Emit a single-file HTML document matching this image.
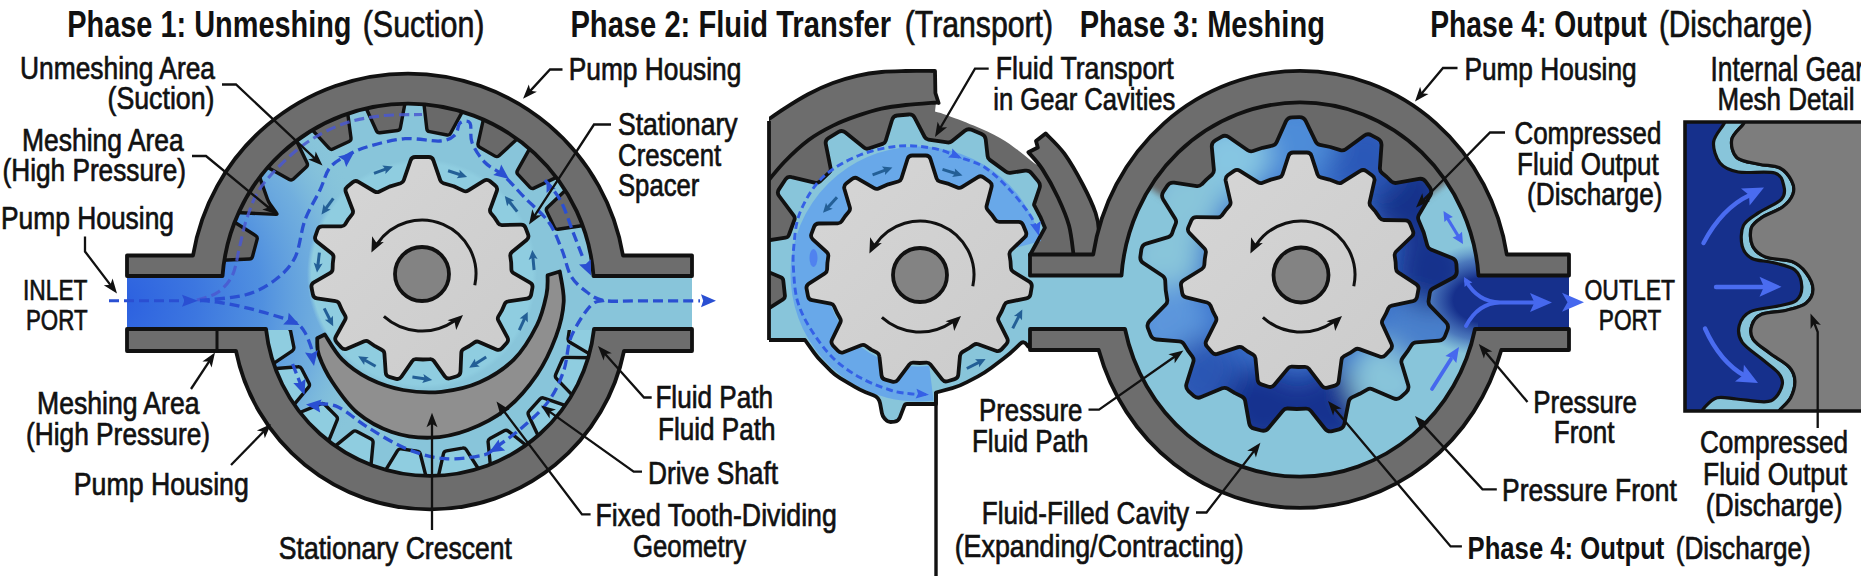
<!DOCTYPE html>
<html lang="en"><head><meta charset="utf-8"><title>Internal gear pump phases</title>
<style>html,body{margin:0;padding:0;background:#fff}svg{display:block}</style></head>
<body>
<svg width="1861" height="576" viewBox="0 0 1861 576" font-family="'Liberation Sans', sans-serif" fill="#111">
<defs>
<linearGradient id="gearg" x1="0" y1="0" x2="1" y2="1"><stop offset="0" stop-color="#d6d6d6"/><stop offset="1" stop-color="#cbcbcb"/></linearGradient>
<clipPath id="p1f"><rect x="127" y="275" width="565" height="55"/><path d="M220,300 L222,276 A186,186 0 0 1 594,276 L594,300 Z"/><path d="M262,300 L266,329 A165,165 0 0 0 594,329 L594,300 Z"/></clipPath>
<radialGradient id="p1g" gradientUnits="userSpaceOnUse" cx="118" cy="302" r="262"><stop offset="0" stop-color="#2b5fe0" stop-opacity="1"/><stop offset="0.3" stop-color="#3a74e0" stop-opacity="0.97"/><stop offset="0.55" stop-color="#4a8ae0" stop-opacity="0.9"/><stop offset="0.78" stop-color="#62a0e0" stop-opacity="0.6"/><stop offset="1" stop-color="#88c5da" stop-opacity="0"/></radialGradient>
<radialGradient id="p1disc" gradientUnits="userSpaceOnUse" cx="422" cy="274" r="115"><stop offset="0.96" stop-color="#8fcde0" stop-opacity="1"/><stop offset="1" stop-color="#8fcde0" stop-opacity="0"/></radialGradient>
<clipPath id="p1bt"><rect x="200" y="330" width="500" height="200"/></clipPath>
<clipPath id="p2c"><rect x="769" y="40" width="400" height="536"/></clipPath>
<clipPath id="p3f"><ellipse cx="1300" cy="289.5" rx="180" ry="188"/><rect x="1120" y="274" width="449" height="57"/></clipPath>
<linearGradient id="p3g" gradientUnits="userSpaceOnUse" x1="1190" y1="160" x2="1420" y2="350"><stop offset="0" stop-color="#88c5da"/><stop offset="0.3" stop-color="#5e9fe0"/><stop offset="0.55" stop-color="#2f5fc4"/><stop offset="0.8" stop-color="#1d3fa0"/><stop offset="1" stop-color="#1a3590"/></linearGradient>
<linearGradient id="p3out" gradientUnits="userSpaceOnUse" x1="1400" y1="0" x2="1490" y2="0"><stop offset="0" stop-color="#16308c" stop-opacity="0"/><stop offset="0.5" stop-color="#16308c" stop-opacity="0.6"/><stop offset="1" stop-color="#16308c" stop-opacity="1"/></linearGradient>
<radialGradient id="p3rad"><stop offset="0.4" stop-color="#16308c" stop-opacity="1"/><stop offset="0.72" stop-color="#2446a8" stop-opacity="0.6"/><stop offset="1" stop-color="#3a6ac0" stop-opacity="0"/></radialGradient>
<clipPath id="p3rot"><path d="M1428.6,300.7Q1428.1,303.7 1430.2,305.8L1446,322.2Q1449.1,325.4 1447.5,329.6L1445,336.2Q1443.4,340.4 1438.9,340.7L1416.2,342.3Q1413.2,342.5 1411.6,345L1407.3,351.7L1402.6,358Q1400.8,360.4 1401.6,363.3L1408.2,385.1Q1409.4,389.4 1406.1,392.4L1400.8,397.1Q1397.4,400.1 1393.3,398.3L1372.4,389.2Q1369.7,388 1367.1,389.6L1359.7,393.8L1352,397.4Q1349.3,398.7 1348.7,401.6L1344.3,424Q1343.4,428.4 1339.1,429.4L1332.2,431.1Q1327.8,432.2 1325,428.7L1310.8,410.9Q1308.9,408.6 1305.9,408.7L1296.8,409L1287.8,408.5Q1284.8,408.3 1282.9,410.7L1268.4,428.2Q1265.5,431.6 1261.1,430.5L1254.3,428.7Q1249.9,427.6 1249.1,423.1L1245.1,400.7Q1244.5,397.8 1241.8,396.5L1234.5,392.9L1227.6,388.7Q1225,387.2 1222.2,388.3L1201.2,397.1Q1197.1,398.9 1193.7,395.8L1188.5,391.1Q1185.2,388 1186.5,383.7L1193.3,362Q1194.2,359.2 1192.4,356.7L1187.9,350.6L1183.8,344Q1182.2,341.5 1179.3,341.3L1156.6,339.5Q1152.1,339.1 1150.5,334.9L1148,328.3Q1146.4,324.1 1149.6,320.9L1165.6,304.7Q1167.7,302.5 1167.2,299.6L1165.7,290L1165.2,280.4Q1165,277.4 1162.5,275.7L1143.5,263.2Q1139.7,260.8 1140.4,256.3L1141.4,249.3Q1142.1,244.8 1146.4,243.6L1168.2,237.1Q1171.1,236.2 1172.1,233.4L1173.7,228.7L1175.6,224Q1176.8,221.3 1175.2,218.7L1163.2,199.4Q1160.9,195.5 1163.3,191.8L1167.2,185.9Q1169.7,182.1 1174.1,182.7L1196.7,186.1Q1199.6,186.5 1201.7,184.3L1206.6,179.4L1211.9,174.8Q1214.1,172.8 1213.9,169.8L1211.8,147.1Q1211.4,142.7 1215.3,140.4L1221.4,136.8Q1225.3,134.6 1229,137.2L1247.7,150.2Q1250.1,151.9 1253,151L1262.6,147.8L1272.4,145.6Q1275.4,144.9 1276.6,142.2L1285.9,121.4Q1287.7,117.3 1292.2,117.3L1299.3,117.2Q1303.8,117.1 1305.8,121.2L1315.7,141.7Q1317,144.4 1319.9,144.9L1330.3,147L1340.4,150.1Q1343.3,150.9 1345.7,149.2L1364.1,135.7Q1367.7,133.1 1371.6,135.3L1377.8,138.7Q1381.8,140.9 1381.5,145.4L1379.9,168.1Q1379.7,171.1 1382,173L1386.8,177L1391.3,181.4Q1393.5,183.4 1396.5,182.9L1418.9,178.9Q1423.3,178.1 1425.9,181.8L1430,187.6Q1432.5,191.3 1430.3,195.2L1418.9,214.9Q1417.4,217.5 1418.6,220.3L1423.7,232.6L1427.3,245.5Q1428.1,248.3 1430.9,249.5L1452,258Q1456.2,259.7 1456.4,264.1L1456.8,271.2Q1457,275.7 1453,277.8L1432.9,288.5Q1430.3,289.9 1429.8,292.9Z"/></clipPath>
<filter id="bl3" filterUnits="userSpaceOnUse" x="1080" y="40" width="440" height="300"><feGaussianBlur stdDeviation="3"/></filter>
<filter id="bl14" x="-20%" y="-20%" width="140%" height="140%"><feGaussianBlur stdDeviation="13"/></filter>
<clipPath id="dbc"><rect x="1685" y="122" width="200" height="289"/></clipPath>
</defs>
<rect width="1861" height="576" fill="#fff"/>
<g clip-path="url(#p1f)">
<rect x="120" y="90" width="580" height="400" fill="#88c5da"/>
<rect x="110" y="40" width="300" height="520" fill="url(#p1g)"/>
<circle cx="422" cy="274" r="120" fill="url(#p1disc)"/>
</g>
<path d="M222.2,260.2L249.4,259Q251.9,258.9 252.5,256.5L257.1,239.4Q257.8,237 255.6,235.6L232.7,221Z" fill="#696969" stroke="#111" stroke-width="3.4" stroke-linejoin="round" stroke-linecap="round" />
<path d="M265.7,166.2L289.3,179.5Q291.5,180.8 293.4,179.1L306.3,167Q308.2,165.3 307.1,163L295.4,138.5Z" fill="#696969" stroke="#111" stroke-width="3.4" stroke-linejoin="round" stroke-linecap="round" />
<path d="M310.6,128.2L329,148.2Q330.7,150.1 332.9,149L349,141.5Q351.3,140.5 351,138L347.4,111Z" fill="#696969" stroke="#111" stroke-width="3.4" stroke-linejoin="round" stroke-linecap="round" />
<path d="M365.1,106L376.4,130.7Q377.4,133 379.9,132.7L397.5,130.5Q400,130.2 400.4,127.7L405.4,101Z" fill="#696969" stroke="#111" stroke-width="3.4" stroke-linejoin="round" stroke-linecap="round" />
<path d="M423.7,101.7L426.8,128.7Q427.1,131.2 429.6,131.6L447,135Q449.4,135.5 450.6,133.3L463.6,109.4Z" fill="#696969" stroke="#111" stroke-width="3.4" stroke-linejoin="round" stroke-linecap="round" />
<path d="M483.9,117L478,143.5Q477.5,146 479.6,147.2L495,156.1Q497.1,157.3 499,155.7L519,137.3Z" fill="#696969" stroke="#111" stroke-width="3.4" stroke-linejoin="round" stroke-linecap="round" />
<path d="M530.8,146.7L517.5,170.3Q516.2,172.5 517.9,174.4L530,187.3Q531.7,189.2 534,188.1L558.5,176.4Z" fill="#696969" stroke="#111" stroke-width="3.4" stroke-linejoin="round" stroke-linecap="round" />
<path d="M567.1,188.8L547.4,207.5Q545.6,209.3 546.7,211.5L554.4,227.4Q555.5,229.7 558,229.3L584.9,225.3Z" fill="#696969" stroke="#111" stroke-width="3.4" stroke-linejoin="round" stroke-linecap="round" />
<path d="M258.8,174.6L267.5,199.2Q268.5,202 270.3,204.4L276.6,213.3Q277.5,214.5 276,214.4L236.3,212.5Z" fill="#696969" stroke="#111" stroke-width="3.4" stroke-linejoin="round" stroke-linecap="round" />
<g clip-path="url(#p1bt)">
<path d="M271.9,364.7L292.3,350.8Q294.3,349.4 293.8,346.9L290.6,331.1Q290.1,328.7 287.7,328.2L263.5,323.4Z" fill="#8fcde0" stroke="#111" stroke-width="3.4" stroke-linejoin="round" stroke-linecap="round" />
<path d="M292.8,406.2L308.6,387.2Q310.2,385.3 309,383.1L301.6,368.8Q300.4,366.5 297.9,366.8L273.3,368.8Z" fill="#8fcde0" stroke="#111" stroke-width="3.4" stroke-linejoin="round" stroke-linecap="round" />
<path d="M327.8,443L337.1,420.2Q338.1,417.9 336.3,416.1L324.9,404.7Q323.1,402.9 320.8,403.9L298,413.2Z" fill="#8fcde0" stroke="#111" stroke-width="3.4" stroke-linejoin="round" stroke-linecap="round" />
<path d="M370.8,467.2L373.1,442.6Q373.3,440.1 371.1,438.9L356.9,431.4Q354.7,430.2 352.7,431.8L333.6,447.4Z" fill="#8fcde0" stroke="#111" stroke-width="3.4" stroke-linejoin="round" stroke-linecap="round" />
<path d="M426.4,478L420.3,454Q419.7,451.6 417.2,451.3L401.2,448.9Q398.8,448.5 397.5,450.6L384.7,471.7Z" fill="#8fcde0" stroke="#111" stroke-width="3.4" stroke-linejoin="round" stroke-linecap="round" />
<path d="M479.5,470.5L466.2,449.7Q464.8,447.6 462.4,448.1L446.5,450.9Q444,451.3 443.5,453.7L438,477.8Z" fill="#8fcde0" stroke="#111" stroke-width="3.4" stroke-linejoin="round" stroke-linecap="round" />
<path d="M527.6,446.5L508.3,431.1Q506.4,429.5 504.2,430.7L490,438.4Q487.8,439.6 488.1,442.1L490.5,466.6Z" fill="#8fcde0" stroke="#111" stroke-width="3.4" stroke-linejoin="round" stroke-linecap="round" />
<path d="M567.2,406.2L543.9,398.1Q541.6,397.2 539.9,399.1L529.1,411.1Q527.4,412.9 528.5,415.2L539,437.5Z" fill="#8fcde0" stroke="#111" stroke-width="3.4" stroke-linejoin="round" stroke-linecap="round" />
<path d="M590.3,357.7L565.7,357.4Q563.2,357.4 562.2,359.7L555.7,374.5Q554.7,376.8 556.5,378.6L573.5,396.4Z" fill="#8fcde0" stroke="#111" stroke-width="3.4" stroke-linejoin="round" stroke-linecap="round" />
<path d="M597,313.2L573.1,319.5Q570.7,320.1 570.4,322.6L568.1,338.6Q567.8,341 569.9,342.3L591.1,354.9Z" fill="#8fcde0" stroke="#111" stroke-width="3.4" stroke-linejoin="round" stroke-linecap="round" />
</g>
<path d="M127,255.5 H193 A218,218 0 0 1 623,255.5 H692 V276 H593.5 A186,186 0 0 0 222.5,276 H127 Z" fill="#6d6d6d" stroke="#111" stroke-width="3.8" stroke-linejoin="round" stroke-linecap="round" />
<path d="M127,329 H266 A165,165 0 0 0 594,329 H692 V351 H624 A198,198 0 0 1 236,351 H127 Z" fill="#6d6d6d" stroke="#111" stroke-width="3.8" stroke-linejoin="round" stroke-linecap="round" />
<path d="M217,329 V351" stroke="#111" stroke-width="3"/>
<path d="M324.8,334.5C327.7,338.6 334.7,352.1 342,359.4C349.3,366.7 358.6,373.4 368.8,378.5C379,383.6 391.1,387.8 403.2,390C415.3,392.2 428.7,393.1 441.4,391.8C454.1,390.5 467.5,387.7 479.6,382.3C491.7,376.9 504.4,368.9 514,359.4C523.6,349.8 531.6,335.8 537,325C542.4,314.2 544.7,302.7 546.5,294.4C548.3,286.1 547.4,278.5 547.6,275.3L559.8,271.5C560.4,276.6 564.3,291.2 563.7,302C563.1,312.8 560.5,324.3 556,336.4C551.5,348.5 545.3,362.5 537,374.6C528.7,386.7 517.8,399.8 506.3,409C494.8,418.2 480.7,425.2 468,430C455.3,434.8 442.7,437.4 430,437.7C417.3,438 403.8,436.1 391.7,432C379.6,427.9 367.2,421.1 357.3,412.8C347.4,404.5 338.9,391.9 332.5,382.3C326.1,372.8 321.6,362.8 319,355.5C316.4,348.2 317.5,341.2 317.2,338.3Z" fill="#8f8f8f" stroke="#111" stroke-width="3.8" stroke-linejoin="round" stroke-linecap="round" />
<path d="M197,300C200.4,298.8 211.6,296.7 217.5,292.5C223.4,288.3 228.8,282.9 232.5,275C236.2,267.1 237.5,254.8 240,245C242.5,235.2 243.8,226.5 247.5,216.5C251.2,206.5 253.8,196.5 262.5,185C271.2,173.5 287.1,157.5 300,147.5C312.9,137.5 326.7,130.2 340,125C353.3,119.8 366.3,117.8 380,116C393.7,114.2 415,114.8 422,114.5" fill="none" stroke="#4a58d0" stroke-width="3.1" stroke-dasharray="10 5" stroke-linecap="butt" opacity="0.85"/>
<path d="M200,300.5C207.5,299.6 232.5,298.4 245,295C257.5,291.6 266.7,286.2 275,280C283.3,273.8 290,267.5 295,257.5C300,247.5 300.8,231.2 305,220C309.2,208.8 315.8,198.8 320,190C324.2,181.2 325.3,173.3 330,167.5C334.7,161.7 341.3,158.6 348,155C354.7,151.4 360.5,148.7 370,146C379.5,143.3 393.3,139.5 405,138.7C416.7,137.9 431.7,141.6 440,141C448.3,140.4 451.7,138 455,135C458.3,132 457.5,125 460,123C462.5,121 468,119.8 470,123C472,126.2 469.5,135.9 472,142.5C474.5,149.1 479.7,156.9 485,162.5C490.3,168.1 497.5,170.2 504,176C510.5,181.8 516.6,189.3 524,197C531.4,204.7 542.3,213.2 548.6,222C554.9,230.8 558.3,241 562,250C565.7,259 566.9,269 571,276C575.1,283 581.3,287.9 586.8,292C592.3,296.1 595.1,299 604,300.5C612.9,302 624,300.8 640,300.8C656,300.9 690,300.8 700,300.8" fill="none" stroke="#2a4fd2" stroke-width="3.3" stroke-dasharray="10 5" stroke-linecap="butt" opacity="1"/>
<polygon points="354,152.5 346.2,166.9 344,160.3 338.2,156.6" fill="#2a4fd2"/>
<polygon points="509,179 493.2,174.9 499,171.2 501.2,164.6" fill="#2a4fd2"/>
<polygon points="716,300.8 701,307.3 703.2,300.8 701,294.3" fill="#2a4fd2"/>
<path d="M545,180C547.6,183.5 556,192.1 560.7,200.8C565.4,209.5 569.3,222.5 573,232C576.7,241.5 581.3,253.7 583,258" fill="none" stroke="#2a4fd2" stroke-width="3.3" stroke-dasharray="10 5" stroke-linecap="butt" opacity="1"/>
<polygon points="591,275.5 579,264.4 585.8,263.9 590.8,259.2" fill="#2a4fd2"/>
<polygon points="546.5,181 555.7,188.9 550.5,189.5 546.6,193.1" fill="#2a4fd2"/>
<path d="M604,300.5C601.7,301.4 595.9,299.8 590.4,305.8C584.9,311.8 575.8,325.6 571.3,336.4C566.8,347.2 567.5,360 563.7,370.8C559.9,381.6 555.4,391.9 548.4,401.4C541.4,410.9 530.5,420.2 521.6,428C512.7,435.8 501.4,443.5 495,448C488.6,452.5 491.7,453.2 483.4,455C475.1,456.8 457.7,459.7 445,458.7C432.3,457.7 419.7,454.1 407,449C394.3,443.9 380.3,435 368.8,428C357.3,421 346.8,411.1 338,407C329.2,402.9 319.7,404.1 316,403.5" fill="none" stroke="#2a4fd2" stroke-width="3.3" stroke-dasharray="10 5" stroke-linecap="butt" opacity="1"/>
<polygon points="489,452.5 498.7,439.4 500,446.1 505.2,450.6" fill="#2a4fd2"/>
<polygon points="306,404.4 321.6,399.5 318.7,405.7 320.2,412.4" fill="#2a4fd2"/>
<path d="M200,300.5C203.3,300.8 211.7,301.1 220,302.5C228.3,303.9 239.2,306 250,308.7C260.8,311.4 277.1,316.2 285,318.7C292.9,321.2 294.2,321.4 297.5,323.7C300.8,326 302.8,328.6 305,332.5C307.2,336.4 309.8,343.4 311,347C312.2,350.6 312.2,352.8 312.5,354" fill="none" stroke="#2a4fd2" stroke-width="3.3" stroke-dasharray="10 5" stroke-linecap="butt" opacity="1"/>
<polygon points="299.5,325 283.2,324.6 287.9,319.6 288.7,312.8" fill="#2a4fd2"/>
<polygon points="314,366 305,352.4 311.8,353.4 317.8,350.1" fill="#2a4fd2"/>
<path d="M292.6,364 L300.5,384" fill="none" stroke="#2a4fd2" stroke-width="3.3" stroke-dasharray="10 5" stroke-linecap="butt" opacity="1"/>
<polygon points="304.5,395 293.3,383.1 300.1,383 305.5,378.7" fill="#2a4fd2"/>
<path d="M109,300.8 H185" fill="none" stroke="#2a4fd2" stroke-width="2.9" stroke-dasharray="10 5" stroke-linecap="butt" opacity="1"/>
<polygon points="198,300.8 182,306.8 184.4,300.8 182,294.8" fill="#2a4fd2"/>
<path d="M374,173.4 L388.3,168.2" stroke="#235f96" stroke-width="3" fill="none"/>
<polygon points="392.8,166.6 385.4,174.1 385.7,169.2 382.3,165.6" fill="#235f96"/>
<path d="M448.1,170.8 L462.6,175.5" stroke="#235f96" stroke-width="3" fill="none"/>
<polygon points="467.1,177 456.7,178.3 459.9,174.6 459.5,169.8" fill="#235f96"/>
<path d="M517.2,211.7 L507.8,199.7" stroke="#235f96" stroke-width="3" fill="none"/>
<polygon points="504.8,195.9 514.2,200.6 509.5,201.9 507.1,206.2" fill="#235f96"/>
<path d="M534.1,270 L532.7,254.8" stroke="#235f96" stroke-width="3" fill="none"/>
<polygon points="532.3,250 537.6,259.1 533,257.6 528.7,259.9" fill="#235f96"/>
<path d="M333.3,198.3 L324.3,210.6" stroke="#235f96" stroke-width="3" fill="none"/>
<polygon points="321.5,214.5 323.5,204.2 326,208.3 330.7,209.4" fill="#235f96"/>
<path d="M319.4,252.6 L317.6,267.7" stroke="#235f96" stroke-width="3" fill="none"/>
<polygon points="317,272.4 313.7,262.4 317.9,264.9 322.6,263.5" fill="#235f96"/>
<path d="M324.2,308.4 L331.1,322" stroke="#235f96" stroke-width="3" fill="none"/>
<polygon points="333.2,326.2 324.9,319.8 329.8,319.4 332.9,315.7" fill="#235f96"/>
<path d="M375.6,366.3 L362.4,358.7" stroke="#235f96" stroke-width="3" fill="none"/>
<polygon points="358.2,356.3 368.7,357.2 364.8,360.1 364.2,364.9" fill="#235f96"/>
<path d="M412.4,377.1 L427.5,379.2" stroke="#235f96" stroke-width="3" fill="none"/>
<polygon points="432.2,379.9 422.2,383 424.7,378.8 423.4,374.1" fill="#235f96"/>
<path d="M486.2,357.1 L473.2,365.2" stroke="#235f96" stroke-width="3" fill="none"/>
<polygon points="469.2,367.7 474.9,358.8 475.7,363.7 479.7,366.5" fill="#235f96"/>
<path d="M519.3,330.1 L525.7,316.2" stroke="#235f96" stroke-width="3" fill="none"/>
<polygon points="527.7,311.9 527.8,322.4 524.5,318.8 519.6,318.6" fill="#235f96"/>
<path d="M511.4,269.5Q511.5,272 513.6,273.2L530,282.7Q533.1,284.4 532.4,287.9L531.1,294.8Q530.4,298.2 526.9,298.7L508.2,301.4Q505.7,301.7 504.7,304L501.9,310.4L498.4,316.4Q497.2,318.5 498.4,320.7L507.4,337.4Q509,340.5 506.7,343.1L501.9,348.3Q499.5,350.8 496.3,349.4L479,341.9Q476.7,340.9 474.6,342.3L469.3,346L463.6,349.1Q461.4,350.3 461.3,352.8L460.5,371.7Q460.3,375.2 456.9,376.2L450.2,378.2Q446.8,379.2 444.8,376.4L433.8,360.9Q432.4,358.9 429.9,359.1L422.9,359.5L416,359.2Q413.5,359.1 412.1,361.2L401.4,376.8Q399.5,379.7 396.1,378.8L389.3,376.9Q385.9,376 385.7,372.5L384.4,353.6Q384.2,351.1 382,350L375.1,346.2L368.6,341.7Q366.6,340.3 364.3,341.3L346.9,348.7Q343.6,350 341.3,347.4L336.6,342.2Q334.2,339.6 335.9,336.5L345.1,319.9Q346.3,317.8 345.1,315.6L341.8,309.8L339.2,303.7Q338.2,301.4 335.7,301.1L317,298.4Q313.5,297.9 312.9,294.4L311.5,287.5Q310.9,284 313.9,282.3L330.3,272.9Q332.5,271.6 332.6,269.1L332.8,263.3L333.5,257.5Q333.8,255 331.8,253.4L317,241.7Q314.2,239.5 315.4,236.2L317.7,229.5Q318.9,226.2 322.4,226.3L341.3,226.4Q343.8,226.4 345.2,224.3L348.4,219.1L352.1,214.3Q353.6,212.3 352.7,210L345.9,192.3Q344.6,189 347.3,186.8L352.7,182.2Q355.4,180 358.4,181.8L374.6,191.5Q376.8,192.8 379,191.7L389.5,186.6L400.6,183.3Q403,182.5 403.8,180.2L410.6,160.3Q411.7,157 415.2,157L428.8,157Q432.3,157 433.4,160.3L440.2,180.2Q441,182.5 443.4,183.2L453.8,186.3L463.6,190.9Q465.9,192 468,190.7L484.1,180.7Q487,178.8 489.8,181L495.2,185.5Q498,187.7 496.8,191L490.3,208.8Q489.4,211.1 490.9,213.1L494.8,217.9L498.1,223.1Q499.5,225.2 502,225.1L520.9,224.7Q524.4,224.6 525.6,227.9L528.1,234.5Q529.3,237.8 526.6,240L511.9,252Q510,253.6 510.3,256.1L511.2,262.7Z" fill="url(#gearg)" stroke="#111" stroke-width="3.8" stroke-linejoin="round" stroke-linecap="round" />
<circle cx="422" cy="274" r="27" fill="#838383" stroke="#111" stroke-width="3.8"/>
<path d="M474.8,285.2 A54,54 0 0 0 377.2,243.8" fill="none" stroke="#111" stroke-width="3"/>
<polygon points="371.4,252.5 372.1,236.2 376.3,242.4 383.8,241.9" fill="#111"/>
<path d="M383.9,316.4 A57,57 0 0 0 453.9,321.3" fill="none" stroke="#111" stroke-width="3"/>
<polygon points="463,315 456.2,329.9 454.7,322.5 447.5,320.2" fill="#111"/>
<g clip-path="url(#p2c)">
<path d="M764,186C767.4,182 776.9,169.7 784.3,162C791.7,154.3 800.5,146.1 808.6,140C816.7,133.9 824.9,129.6 833,125.6C841.1,121.6 848.9,118.7 857,115.9C865.1,113.1 873.4,110.4 881.5,108.6C889.6,106.8 896.7,106 905.8,105C914.9,104 931,102.9 936,102.5L935,111.5C936.8,112 939.1,112.4 945.6,114.7C952.1,117 964.6,121.7 973.7,125.6C982.8,129.5 992.5,133.8 1000,138C1007.5,142.2 1013.3,146.8 1019,151C1024.7,155.2 1030.1,159.9 1034,163C1037.9,166.1 1038.5,163.7 1042.5,169.4C1046.5,175.2 1053.6,188.1 1058,197.5C1062.4,206.9 1066.4,215.8 1069,225.6C1071.6,235.3 1072.9,250.9 1073.7,256L1030,256 L919,275 L760,330 Z" fill="#696969" stroke="none" stroke-width="0" stroke-linejoin="round" stroke-linecap="round" />
<path d="M762,124C765.7,121.4 776.5,113.6 784.3,108.6C792.1,103.6 800.5,98.3 808.6,94C816.7,89.7 824.8,86 832.9,83C841,80 848.9,77.6 857,75.8C865.1,74 873.4,72.8 881.5,72C889.6,71.2 896.9,71.2 905.8,71C914.7,70.8 930.1,71 935,71L935.4,93 L938.6,103L936,102.5C931,102.9 914.9,104 905.8,105C896.7,106 889.6,106.8 881.5,108.6C873.4,110.4 865.1,113.1 857,115.9C848.9,118.7 841.1,121.6 833,125.6C824.9,129.6 816.7,133.9 808.6,140C800.5,146.1 791.7,154.3 784.3,162C776.9,169.7 767.4,182 764,186Z" fill="#6d6d6d" stroke="#111" stroke-width="3.8" stroke-linejoin="round" stroke-linecap="round" />
</g>
<path d="M1045.6,133.4C1048.7,136.8 1058.2,145.1 1064.4,153.7C1070.6,162.3 1077.8,175.1 1083,185C1088.2,194.9 1092.9,205.2 1095.6,213C1098.3,220.8 1098.8,224.8 1099,232C1099.2,239.2 1097.3,252 1097,256L1073.7,256C1072.9,250.9 1071.6,235.3 1069,225.6C1066.4,215.8 1062.4,206.9 1058,197.5C1053.6,188.1 1047.4,177 1042.5,169.4C1037.6,161.8 1030.8,155.1 1028.4,152.2L1037.8,147.5 L1036,141 Z" fill="#6d6d6d" stroke="#111" stroke-width="3.8" stroke-linejoin="round" stroke-linecap="round" />
<g clip-path="url(#p2c)">
<path d="M1030,255L1044.9,227.8L1040.3,216.8L1034.8,206.3L1034.3,205.5Q1033.9,204.8 1034.2,203.9L1039.5,188.2Q1040.8,184.4 1038.3,181.4L1031.5,173.2Q1029,170.1 1025,170.7L1010.2,172.8Q1007.7,173.1 1005.7,171.6L989.8,159.9Q987.8,158.5 987.6,156L985.7,139.4Q985.3,135.5 981.6,133.9L971.6,129.8Q967.9,128.3 964.8,130.8L951.8,141.2Q949.9,142.8 947.4,142.4L928.4,139.6Q925.9,139.2 924.7,137L914.6,117.6Q912.7,114.1 908.7,114.5L897.2,115.5Q893.2,115.9 892.1,119.8L885.7,140.7Q885,143.1 882.6,143.9L868.6,148.5Q866.2,149.3 864.3,147.8L845.1,132.3Q842,129.8 838.6,131.9L828.4,138.1Q825,140.2 825.8,144.1L830.6,168.2Q831.1,170.7 829.3,172.4L819.7,181.7Q817.9,183.4 815.5,182.8L791.5,177.1Q787.7,176.1 785.4,179.5L778.9,189.4Q776.7,192.7 779.1,196L793.8,215.7Q795.3,217.7 794.4,220L788.9,235Q788.1,237.4 785.6,237.7L754.8,242.4Q750.8,243 750.4,247L748.8,259.7Q748.3,263.6 752,265.2L780.8,277.2Q783.1,278.1 783.3,280.6L784.9,295.5Q785.2,298 783,299.4L752.7,318.6Q749.4,320.8 749.5,324.8L750,340L805,340L814,352.6Q817.5,357.5 821.7,361.7L830.8,370.8Q835,375 840.1,378.1L854.9,386.9Q860,390 865.6,392.2L873.4,395.3Q879,397.5 880.1,403.4L881.9,413.1Q882.5,416 884.4,418.3L885.4,419.4Q888,422.5 892,421.9L894.5,421.6Q898.5,421 899.9,417.3L904.3,405.9Q905,404 907,404L936,404L936,392.5L952.3,388.1Q960,386 967,382.2L978,376.3Q985,372.5 991.4,367.7L1003.6,358.5Q1010,353.7 1015.7,348.1L1019.8,344.1Q1024,340 1027,345L1027,345Q1030,350 1030,344.2Z" fill="#88c5da" stroke="none" stroke-width="0" stroke-linejoin="round" stroke-linecap="round" />
<path d="M931.4,383.2 A110,110 0 1 1 1024.3,245.5" fill="none" stroke="#66a6ea" stroke-width="35" opacity="0.95"/>
<path d="M1030,255L1044.9,227.8L1040.3,216.8L1034.8,206.3L1034.3,205.5Q1033.9,204.8 1034.2,203.9L1039.5,188.2Q1040.8,184.4 1038.3,181.4L1031.5,173.2Q1029,170.1 1025,170.7L1010.2,172.8Q1007.7,173.1 1005.7,171.6L989.8,159.9Q987.8,158.5 987.6,156L985.7,139.4Q985.3,135.5 981.6,133.9L971.6,129.8Q967.9,128.3 964.8,130.8L951.8,141.2Q949.9,142.8 947.4,142.4L928.4,139.6Q925.9,139.2 924.7,137L914.6,117.6Q912.7,114.1 908.7,114.5L897.2,115.5Q893.2,115.9 892.1,119.8L885.7,140.7Q885,143.1 882.6,143.9L868.6,148.5Q866.2,149.3 864.3,147.8L845.1,132.3Q842,129.8 838.6,131.9L828.4,138.1Q825,140.2 825.8,144.1L830.6,168.2Q831.1,170.7 829.3,172.4L819.7,181.7Q817.9,183.4 815.5,182.8L791.5,177.1Q787.7,176.1 785.4,179.5L778.9,189.4Q776.7,192.7 779.1,196L793.8,215.7Q795.3,217.7 794.4,220L788.9,235Q788.1,237.4 785.6,237.7L754.8,242.4Q750.8,243 750.4,247L748.8,259.7Q748.3,263.6 752,265.2L780.8,277.2Q783.1,278.1 783.3,280.6L784.9,295.5Q785.2,298 783,299.4L752.7,318.6Q749.4,320.8 749.5,324.8L750,340L805,340L814,352.6Q817.5,357.5 821.7,361.7L830.8,370.8Q835,375 840.1,378.1L854.9,386.9Q860,390 865.6,392.2L873.4,395.3Q879,397.5 880.1,403.4L881.9,413.1Q882.5,416 884.4,418.3L885.4,419.4Q888,422.5 892,421.9L894.5,421.6Q898.5,421 899.9,417.3L904.3,405.9Q905,404 907,404L936,404L936,392.5L952.3,388.1Q960,386 967,382.2L978,376.3Q985,372.5 991.4,367.7L1003.6,358.5Q1010,353.7 1015.7,348.1L1019.8,344.1Q1024,340 1027,345L1027,345Q1030,350 1030,344.2" fill="none" stroke="#111" stroke-width="3.8" stroke-linejoin="round" stroke-linecap="round" />
</g>
<path d="M769,121 V340" stroke="#111" stroke-width="3.8" fill="none"/>
<path d="M936,392 V576" stroke="#111" stroke-width="3.4" fill="none"/>
<rect x="1029" y="275" width="100" height="55" fill="#88c5da"/>
<path d="M1037,230C1035.8,227.5 1034.5,221.7 1030,215C1025.5,208.3 1017.5,197.9 1010,190C1002.5,182.1 993.3,172.9 985,167.5C976.7,162.1 968.3,160.6 960,157.5C951.7,154.4 945,150.6 935,148.7C925,146.8 912.5,144.9 900,146C887.5,147.1 872.9,149.8 860,155C847.1,160.2 832.5,167.9 822.5,177.5C812.5,187.1 804.8,200.8 800,212.5C795.2,224.2 794.8,237.5 793.7,247.5C792.7,257.5 793.1,263.6 793.7,272.5C794.3,281.4 794.8,291.8 797.5,301C800.2,310.2 804.2,318.6 810,328C815.8,337.4 824.2,349.2 832.5,357.5C840.8,365.8 850.4,372.1 860,377.5C869.6,382.9 881.7,387.3 890,390C898.3,392.7 903.8,392.9 910,393.7C916.2,394.4 924.2,394.4 927,394.5" fill="none" stroke="#3560e6" stroke-width="2.9" stroke-dasharray="7 4" stroke-linecap="butt" opacity="1"/>
<polygon points="929,394.8 915.6,398.6 918,393.8 916.5,388.7" fill="#3560e6"/>
<polygon points="962,158.5 948.1,157.5 952,153.8 952.3,148.5" fill="#3560e6"/>
<polygon points="1039,236 1030.1,223.9 1035.9,224.5 1040.7,221.1" fill="#3560e6"/>
<ellipse cx="813.5" cy="258" rx="4" ry="9" fill="#4a78f0" opacity="0.8"/>
<path d="M872.6,174.8 L887.9,169.2" stroke="#235f96" stroke-width="3" fill="none"/>
<polygon points="892.4,167.6 885,175.1 885.2,170.2 881.9,166.6" fill="#235f96"/>
<path d="M942.5,169.4 L958,174.2" stroke="#235f96" stroke-width="3" fill="none"/>
<polygon points="962.5,175.6 952.1,177.1 955.3,173.3 954.8,168.5" fill="#235f96"/>
<path d="M837,197.2 L826.2,209.3" stroke="#235f96" stroke-width="3" fill="none"/>
<polygon points="823,212.8 826,202.7 828.1,207.2 832.7,208.8" fill="#235f96"/>
<path d="M1012.7,328.4 L1020.1,313.9" stroke="#235f96" stroke-width="3" fill="none"/>
<polygon points="1022.3,309.6 1022,320.2 1018.8,316.4 1013.9,316.1" fill="#235f96"/>
<path d="M966.8,368.5 L981.3,361.1" stroke="#235f96" stroke-width="3" fill="none"/>
<polygon points="985.6,358.9 979.1,367.3 978.8,362.4 975,359.2" fill="#235f96"/>
<path d="M1010.9,267.9Q1011,270.4 1013.1,271.7L1029.3,281.7Q1032.3,283.5 1031.7,287L1030.5,294.2Q1029.9,297.6 1026.4,298.3L1007.8,302.2Q1005.4,302.7 1004.4,305L1001.8,311L998.7,316.8Q997.5,319 998.6,321.2L1007.1,338.2Q1008.7,341.3 1006.4,344L1001.5,349.4Q999.2,352 995.9,350.8L978.1,344.3Q975.7,343.4 973.7,344.9L968.2,348.7L962.4,352Q960.3,353.2 960,355.7L958.3,374.6Q958,378.1 954.6,379.1L947.6,381.2Q944.3,382.2 942.1,379.4L930.4,364.4Q928.9,362.5 926.4,362.6L919.8,363L913.2,362.7Q910.7,362.6 909.2,364.6L897.8,379.8Q895.7,382.6 892.3,381.7L885.3,379.7Q881.9,378.8 881.5,375.3L879.4,356.4Q879.2,353.9 877,352.7L871.1,349.6L865.6,345.8Q863.6,344.4 861.2,345.3L843.5,352.2Q840.2,353.4 837.9,350.8L832.9,345.5Q830.5,342.9 832,339.7L840.3,322.6Q841.4,320.4 840.1,318.2L836.9,312.5L834.2,306.5Q833.2,304.2 830.7,303.7L812.1,300.2Q808.6,299.5 808,296.1L806.6,288.9Q805.9,285.5 808.9,283.6L824.9,273.4Q827,272 827.1,269.5L827.4,262.9L828.3,256.3Q828.6,253.8 826.8,252.1L812.8,239.3Q810.2,236.9 811.5,233.6L814.1,226.8Q815.3,223.5 818.8,223.5L837.8,223.3Q840.3,223.3 841.7,221.2L845.1,216.2L848.9,211.6Q850.5,209.6 849.8,207.2L844.4,189Q843.5,185.6 846.2,183.5L852,179Q854.8,176.8 857.8,178.6L874.2,188.2Q876.3,189.5 878.6,188.5L888.2,184.3L898.2,181.5Q900.7,180.8 901.4,178.5L907.6,158.8Q908.7,155.5 912.2,155.5L925.8,155.5Q929.3,155.5 930.4,158.8L936.6,178.5Q937.3,180.8 939.8,181.5L948.8,183.9L957.4,187.5Q959.7,188.5 961.8,187.2L977.9,177.1Q980.9,175.3 983.7,177.4L989.6,181.7Q992.4,183.8 991.5,187.2L986.7,205.5Q986,208 987.6,209.9L991.7,214.7L995.4,219.9Q996.8,221.9 999.3,221.9L1018.3,221.8Q1021.8,221.7 1023.1,225L1025.9,231.8Q1027.2,235 1024.6,237.4L1010.9,250.5Q1009.1,252.3 1009.5,254.7L1010.5,261.3Z" fill="url(#gearg)" stroke="#111" stroke-width="3.8" stroke-linejoin="round" stroke-linecap="round" />
<circle cx="920" cy="275" r="27" fill="#838383" stroke="#111" stroke-width="3.8"/>
<path d="M972.8,286.2 A54,54 0 0 0 875.2,244.8" fill="none" stroke="#111" stroke-width="3"/>
<polygon points="869.4,253.5 870.1,237.2 874.3,243.4 881.8,242.9" fill="#111"/>
<path d="M881.9,317.4 A57,57 0 0 0 951.9,322.3" fill="none" stroke="#111" stroke-width="3"/>
<polygon points="961,316 954.2,330.9 952.7,323.5 945.5,321.2" fill="#111"/>
<g clip-path="url(#p3f)">
<rect x="1100" y="90" width="480" height="400" fill="#88c5da"/>
<path d="M1159.1,194.4 A170,170 0 0 1 1437.5,189.6" fill="none" stroke="#696969" stroke-width="66" filter="url(#bl3)"/>
<ellipse cx="1484" cy="300" rx="76" ry="56" fill="url(#p3rad)"/>
<rect x="1478" y="270" width="100" height="65" fill="#16308c"/>
</g>
<g clip-path="url(#p3rot)"><rect x="1130" y="105" width="340" height="340" fill="#3a72cc"/><g filter="url(#bl14)">
<circle cx="1163.3" cy="257.1" r="40" fill="#88c5da"/>
<circle cx="1170.6" cy="323.6" r="40" fill="#5c96dc"/>
<circle cx="1207" cy="377.1" r="40" fill="#2956b4"/>
<circle cx="1263.5" cy="407.5" r="40" fill="#17338f"/>
<circle cx="1330.9" cy="408" r="40" fill="#17338f"/>
<circle cx="1389" cy="377.1" r="40" fill="#88c5da"/>
<circle cx="1425" cy="324.7" r="40" fill="#4a80cc"/>
<circle cx="1433.8" cy="268.9" r="40" fill="#16308c"/>
<circle cx="1409.4" cy="198" r="40" fill="#15308a"/>
<circle cx="1363.9" cy="157.1" r="40" fill="#2a58b8"/>
<circle cx="1295.6" cy="140" r="40" fill="#4e8cd8"/>
<circle cx="1230" cy="158.2" r="40" fill="#86c6e2"/>
<circle cx="1183.9" cy="201.9" r="40" fill="#88c5da"/>
</g></g>
<path d="M1428.6,300.7Q1428.1,303.7 1430.2,305.8L1446,322.2Q1449.1,325.4 1447.5,329.6L1445,336.2Q1443.4,340.4 1438.9,340.7L1416.2,342.3Q1413.2,342.5 1411.6,345L1407.3,351.7L1402.6,358Q1400.8,360.4 1401.6,363.3L1408.2,385.1Q1409.4,389.4 1406.1,392.4L1400.8,397.1Q1397.4,400.1 1393.3,398.3L1372.4,389.2Q1369.7,388 1367.1,389.6L1359.7,393.8L1352,397.4Q1349.3,398.7 1348.7,401.6L1344.3,424Q1343.4,428.4 1339.1,429.4L1332.2,431.1Q1327.8,432.2 1325,428.7L1310.8,410.9Q1308.9,408.6 1305.9,408.7L1296.8,409L1287.8,408.5Q1284.8,408.3 1282.9,410.7L1268.4,428.2Q1265.5,431.6 1261.1,430.5L1254.3,428.7Q1249.9,427.6 1249.1,423.1L1245.1,400.7Q1244.5,397.8 1241.8,396.5L1234.5,392.9L1227.6,388.7Q1225,387.2 1222.2,388.3L1201.2,397.1Q1197.1,398.9 1193.7,395.8L1188.5,391.1Q1185.2,388 1186.5,383.7L1193.3,362Q1194.2,359.2 1192.4,356.7L1187.9,350.6L1183.8,344Q1182.2,341.5 1179.3,341.3L1156.6,339.5Q1152.1,339.1 1150.5,334.9L1148,328.3Q1146.4,324.1 1149.6,320.9L1165.6,304.7Q1167.7,302.5 1167.2,299.6L1165.7,290L1165.2,280.4Q1165,277.4 1162.5,275.7L1143.5,263.2Q1139.7,260.8 1140.4,256.3L1141.4,249.3Q1142.1,244.8 1146.4,243.6L1168.2,237.1Q1171.1,236.2 1172.1,233.4L1173.7,228.7L1175.6,224Q1176.8,221.3 1175.2,218.7L1163.2,199.4Q1160.9,195.5 1163.3,191.8L1167.2,185.9Q1169.7,182.1 1174.1,182.7L1196.7,186.1Q1199.6,186.5 1201.7,184.3L1206.6,179.4L1211.9,174.8Q1214.1,172.8 1213.9,169.8L1211.8,147.1Q1211.4,142.7 1215.3,140.4L1221.4,136.8Q1225.3,134.6 1229,137.2L1247.7,150.2Q1250.1,151.9 1253,151L1262.6,147.8L1272.4,145.6Q1275.4,144.9 1276.6,142.2L1285.9,121.4Q1287.7,117.3 1292.2,117.3L1299.3,117.2Q1303.8,117.1 1305.8,121.2L1315.7,141.7Q1317,144.4 1319.9,144.9L1330.3,147L1340.4,150.1Q1343.3,150.9 1345.7,149.2L1364.1,135.7Q1367.7,133.1 1371.6,135.3L1377.8,138.7Q1381.8,140.9 1381.5,145.4L1379.9,168.1Q1379.7,171.1 1382,173L1386.8,177L1391.3,181.4Q1393.5,183.4 1396.5,182.9L1418.9,178.9Q1423.3,178.1 1425.9,181.8L1430,187.6Q1432.5,191.3 1430.3,195.2L1418.9,214.9Q1417.4,217.5 1418.6,220.3L1423.7,232.6L1427.3,245.5Q1428.1,248.3 1430.9,249.5L1452,258Q1456.2,259.7 1456.4,264.1L1456.8,271.2Q1457,275.7 1453,277.8L1432.9,288.5Q1430.3,289.9 1429.8,292.9Z" fill="none" stroke="#111" stroke-width="3.8" stroke-linejoin="round" stroke-linecap="round" />
<path d="M1030,254.5 H1093.2 A209.5,218.5 0 0 1 1506.8,254.5 H1569 V275.5 H1478.5 A179,187 0 0 0 1121.5,275.5 H1030 Z" fill="#6d6d6d" stroke="#111" stroke-width="3.8" stroke-linejoin="round" stroke-linecap="round" />
<path d="M1030,329 H1125 A179,187 0 0 0 1475,329 H1569 V350 H1501.3 A209.5,218.5 0 0 1 1098.7,350 H1030 Z" fill="#6d6d6d" stroke="#111" stroke-width="3.8" stroke-linejoin="round" stroke-linecap="round" />
<path d="M1395.9,268.4Q1396,270.9 1398.1,272.3L1416.1,284.1Q1419.1,286 1418.4,289.5L1417,297Q1416.3,300.4 1412.9,301.2L1391.8,305.6Q1389.4,306.1 1388.3,308.4L1385.7,314.2L1382.6,319.8Q1381.4,321.9 1382.4,324.2L1391.4,343.8Q1392.9,347 1390.5,349.6L1385.3,355.2Q1382.9,357.8 1379.6,356.5L1359.4,349.1Q1357,348.2 1355,349.6L1349.7,353.2L1344.1,356.2Q1341.9,357.4 1341.5,359.9L1338.7,381.3Q1338.3,384.7 1334.9,385.6L1327.5,387.6Q1324.1,388.5 1322,385.8L1308.8,368.7Q1307.3,366.7 1304.8,366.8L1298.4,367L1292,366.6Q1289.5,366.4 1288,368.4L1274.2,385Q1272,387.7 1268.6,386.7L1261.3,384.4Q1258,383.4 1257.6,379.9L1255.5,358.4Q1255.3,356 1253.1,354.7L1247.6,351.5L1242.5,347.7Q1240.4,346.3 1238.1,347.1L1217.6,353.9Q1214.3,355 1212,352.3L1207,346.5Q1204.7,343.9 1206.2,340.8L1215.9,321.5Q1217,319.2 1215.8,317L1212.9,311.3L1210.5,305.4Q1209.5,303.1 1207.1,302.5L1186.2,297.4Q1182.8,296.6 1182.2,293.1L1181,285.5Q1180.5,282.1 1183.5,280.3L1201.9,269Q1204.1,267.7 1204.3,265.2L1204.8,259L1205.8,252.8Q1206.3,250.3 1204.5,248.5L1189.5,233.1Q1187,230.5 1188.4,227.3L1191.4,220.3Q1192.8,217.1 1196.3,217.1L1217.9,217.4Q1220.4,217.4 1221.9,215.4L1225.4,210.6L1229.3,206.1Q1231,204.3 1230.5,201.8L1225.7,180.8Q1225,177.3 1227.8,175.3L1234.1,170.9Q1236.9,168.9 1239.9,170.8L1258.2,182.3Q1260.3,183.6 1262.6,182.7L1270.8,179.6L1279.3,177.4Q1281.7,176.8 1282.5,174.4L1288.5,155.8Q1289.6,152.5 1293.1,152.5L1306.9,152.5Q1310.4,152.5 1311.5,155.8L1317.5,174.4Q1318.3,176.8 1320.7,177.4L1329.3,179.6L1337.6,182.8Q1339.9,183.7 1342,182.3L1360.3,170.9Q1363.2,169 1366.1,171L1372.3,175.5Q1375.2,177.5 1374.4,180.9L1369.7,201.9Q1369.1,204.4 1370.8,206.3L1375.6,211.8L1379.8,217.9Q1381.3,219.9 1383.8,220L1405.3,220.4Q1408.8,220.5 1410.1,223.7L1412.9,230.9Q1414.2,234.1 1411.7,236.5L1396.1,251.5Q1394.3,253.3 1394.7,255.7L1395.6,262Z" fill="url(#gearg)" stroke="#111" stroke-width="3.8" stroke-linejoin="round" stroke-linecap="round" />
<circle cx="1301" cy="275" r="27.5" fill="#838383" stroke="#111" stroke-width="3.8"/>
<path d="M1353.8,286.2 A54,54 0 0 0 1256.2,244.8" fill="none" stroke="#111" stroke-width="3"/>
<polygon points="1250.4,253.5 1251.1,237.2 1255.3,243.4 1262.8,242.9" fill="#111"/>
<path d="M1262.9,317.4 A57,57 0 0 0 1332.9,322.3" fill="none" stroke="#111" stroke-width="3"/>
<polygon points="1342,316 1335.2,330.9 1333.7,323.5 1326.5,321.2" fill="#111"/>
<path d="M1466,281 Q1478,302 1500,302.5 H1534 M1466,326 Q1478,303 1500,302.5" fill="none" stroke="#4668ee" stroke-width="3.8" stroke-linecap="round"/>
<polygon points="1552,302.5 1530,312 1534.4,302.5 1530,293" fill="#4668ee"/>
<polygon points="1464,277 1472.4,282.5 1468,284 1464.6,287" fill="#4668ee"/>
<polygon points="1584,302.3 1562,311.8 1567.5,302.3 1562,292.8" fill="#4668ee"/>
<path d="M1446,216 L1460,239" fill="none" stroke="#4668ee" stroke-width="3.2"/>
<polygon points="1443.5,211 1452.9,217 1448.1,218.7 1444.4,222.1" fill="#4668ee"/>
<polygon points="1463,244 1452.6,237.4 1457.9,235.5 1462,231.7" fill="#4668ee"/>
<path d="M1432,389 L1451,359" fill="none" stroke="#4668ee" stroke-width="3.8" stroke-linecap="round"/>
<polygon points="1459,347 1456.3,363.1 1452.1,357.7 1445.4,356" fill="#4668ee"/>
<g clip-path="url(#dbc)">
<rect x="1685" y="122" width="200" height="289" fill="#16308c"/>
<path d="M1727,116C1726.5,117.3 1726.2,119.5 1724,123.8C1721.8,128.1 1714.3,135.5 1713.6,142C1712.9,148.5 1715.9,158 1720,163C1724.1,168 1729.2,170.3 1738.3,172C1747.4,173.7 1767.2,170.6 1774.8,173C1782.4,175.4 1782.8,181.9 1783.9,186.3C1785,190.7 1785.4,195.1 1781.3,199.4C1777.2,203.8 1765.4,208.1 1759.1,212.4C1752.8,216.7 1746.3,219.8 1743.5,225.4C1740.7,231 1740.8,240.7 1742.2,246.2C1743.6,251.7 1746.9,255.8 1752,258.5C1757.1,261.2 1765.5,260.6 1772.7,262.5C1779.9,264.4 1790.1,265.9 1794.9,269.9C1799.8,273.9 1801.6,281.5 1801.8,286.6C1802,291.7 1800.2,297.2 1796.3,300.4C1792.4,303.6 1785.8,304.1 1778.2,306C1770.6,307.9 1756.9,308.4 1750.4,311.6C1743.9,314.8 1740.7,320.3 1739.3,325.4C1737.9,330.5 1738.4,336.5 1742.1,342.1C1745.8,347.7 1755.6,353.7 1761.6,358.8C1767.6,363.9 1774.7,368.5 1778.2,372.7C1781.7,376.9 1782.9,379.6 1782.4,383.8C1781.9,388 1778.4,394.7 1775.4,397.7C1772.4,400.7 1770.8,401.6 1764.3,401.8C1757.8,402 1744.5,399.7 1736.6,399C1728.7,398.3 1722.3,396.3 1717,397.7C1711.7,399.1 1707.8,404 1704.6,407.4C1701.4,410.8 1699.1,416.2 1698,418L1774,418L1774,418C1774.9,416.7 1776.8,413.6 1779.6,410.2C1782.4,406.8 1788.2,402.6 1790.7,397.7C1793.2,392.8 1795.1,386.1 1794.9,381C1794.7,375.9 1793.5,371.7 1789.3,367.1C1785.1,362.5 1775.9,357.8 1769.9,353.2C1763.9,348.6 1756.2,343.9 1753.2,339.3C1750.2,334.7 1750.4,329.6 1751.8,325.4C1753.2,321.2 1755.8,316.8 1761.6,314.3C1767.4,311.8 1779.2,312.1 1786.6,310.2C1794,308.3 1801.6,306.7 1806,303.2C1810.4,299.7 1813,294.4 1813,289.3C1813,284.2 1809.5,277.3 1806,272.7C1802.5,268.1 1798.8,264.2 1792,261.6C1785.2,259 1772.1,259.6 1765.5,257C1758.9,254.4 1755,250.8 1752.6,246C1750.2,241.2 1749.8,232.7 1751.3,228C1752.8,223.3 1756.5,221.1 1761.7,217.6C1766.9,214.1 1777.4,210.9 1782.6,207C1787.8,203.1 1791.5,198.3 1793,194C1794.5,189.7 1793.9,185.3 1791.7,181C1789.5,176.7 1785.5,170.8 1780,168C1774.5,165.2 1766.2,165.9 1759,164.2C1751.8,162.5 1741.5,161.8 1737,157.7C1732.5,153.6 1730.7,145.1 1731.8,139.4C1732.9,133.8 1741.1,127.7 1743.5,123.8C1745.9,119.9 1745.6,117.3 1746,116Z" fill="#88c5da" stroke="#111" stroke-width="3.2" stroke-linejoin="round" stroke-linecap="round" />
<path d="M1746,116C1745.6,117.3 1745.9,119.9 1743.5,123.8C1741.1,127.7 1732.9,133.8 1731.8,139.4C1730.7,145.1 1732.5,153.6 1737,157.7C1741.5,161.8 1751.8,162.5 1759,164.2C1766.2,165.9 1774.5,165.2 1780,168C1785.5,170.8 1789.5,176.7 1791.7,181C1793.9,185.3 1794.5,189.7 1793,194C1791.5,198.3 1787.8,203.1 1782.6,207C1777.4,210.9 1766.9,214.1 1761.7,217.6C1756.5,221.1 1752.8,223.3 1751.3,228C1749.8,232.7 1750.2,241.2 1752.6,246C1755,250.8 1758.9,254.4 1765.5,257C1772.1,259.6 1785.2,259 1792,261.6C1798.8,264.2 1802.5,268.1 1806,272.7C1809.5,277.3 1813,284.2 1813,289.3C1813,294.4 1810.4,299.7 1806,303.2C1801.6,306.7 1794,308.3 1786.6,310.2C1779.2,312.1 1767.4,311.8 1761.6,314.3C1755.8,316.8 1753.2,321.2 1751.8,325.4C1750.4,329.6 1750.2,334.7 1753.2,339.3C1756.2,343.9 1763.9,348.6 1769.9,353.2C1775.9,357.8 1785.1,362.5 1789.3,367.1C1793.5,371.7 1794.7,375.9 1794.9,381C1795.1,386.1 1793.2,392.8 1790.7,397.7C1788.2,402.6 1782.4,406.8 1779.6,410.2C1776.8,413.6 1774.9,416.7 1774,418L1900,418 L1900,116 Z" fill="#7d7d7d" stroke="#111" stroke-width="3.2" stroke-linejoin="round" stroke-linecap="round" />
</g>
<path d="M1870,122 H1685 V411 H1870" fill="none" stroke="#111" stroke-width="3.6"/>
<path d="M1703.5,243 Q1722,208 1750,195" fill="none" stroke="#4a6cf0" stroke-width="4.4" stroke-linecap="round"/>
<polygon points="1764,187.5 1749.6,205.5 1749,195.1 1741,188.6" fill="#4a6cf0"/>
<path d="M1716,287 H1764" fill="none" stroke="#4a6cf0" stroke-width="4.4" stroke-linecap="round"/>
<polygon points="1781.5,286.8 1759.5,296.8 1763.9,286.8 1759.5,276.8" fill="#4a6cf0"/>
<path d="M1705,328.5 Q1720,362 1745,376" fill="none" stroke="#4a6cf0" stroke-width="4.4" stroke-linecap="round"/>
<polygon points="1758,383 1735,381.5 1743.2,375.1 1743.9,364.8" fill="#4a6cf0"/>
<text x="67.3" y="36.6" font-size="37.2" font-weight="bold" textLength="284.2" lengthAdjust="spacingAndGlyphs">Phase 1: Unmeshing</text>
<text x="362.7" y="36.6" font-size="37.2" stroke="#111" stroke-width="0.7" textLength="121.8" lengthAdjust="spacingAndGlyphs">(Suction)</text>
<text x="570.4" y="36.6" font-size="37.2" font-weight="bold" textLength="320.8" lengthAdjust="spacingAndGlyphs">Phase 2: Fluid Transfer</text>
<text x="904.8" y="36.6" font-size="37.2" stroke="#111" stroke-width="0.7" textLength="148.2" lengthAdjust="spacingAndGlyphs">(Transport)</text>
<text x="1079.7" y="36.6" font-size="37.2" font-weight="bold" textLength="245.2" lengthAdjust="spacingAndGlyphs">Phase 3: Meshing</text>
<text x="1430.2" y="36.6" font-size="37.2" font-weight="bold" textLength="216.8" lengthAdjust="spacingAndGlyphs">Phase 4: Output</text>
<text x="1658.9" y="36.6" font-size="37.2" stroke="#111" stroke-width="0.7" textLength="153.5" lengthAdjust="spacingAndGlyphs">(Discharge)</text>
<text x="20" y="78.8" font-size="31.8" stroke="#111" stroke-width="0.7" textLength="195" lengthAdjust="spacingAndGlyphs">Unmeshing Area</text>
<text x="107.5" y="108.8" font-size="31.8" stroke="#111" stroke-width="0.7" textLength="107" lengthAdjust="spacingAndGlyphs">(Suction)</text>
<text x="22" y="151" font-size="31.8" stroke="#111" stroke-width="0.7" textLength="161.8" lengthAdjust="spacingAndGlyphs">Meshing Area</text>
<text x="2.5" y="181" font-size="31.8" stroke="#111" stroke-width="0.7" textLength="183.5" lengthAdjust="spacingAndGlyphs">(High Pressure)</text>
<text x="1" y="229" font-size="31.8" stroke="#111" stroke-width="0.7" textLength="173" lengthAdjust="spacingAndGlyphs">Pump Housing</text>
<text x="37" y="414.2" font-size="31.8" stroke="#111" stroke-width="0.7" textLength="162.5" lengthAdjust="spacingAndGlyphs">Meshing Area</text>
<text x="26" y="445" font-size="31.8" stroke="#111" stroke-width="0.7" textLength="184" lengthAdjust="spacingAndGlyphs">(High Pressure)</text>
<text x="73.8" y="494.5" font-size="31.8" stroke="#111" stroke-width="0.7" textLength="175" lengthAdjust="spacingAndGlyphs">Pump Housing</text>
<text x="278.8" y="559" font-size="31.8" stroke="#111" stroke-width="0.7" textLength="233.1" lengthAdjust="spacingAndGlyphs">Stationary Crescent</text>
<text x="568.8" y="80" font-size="31.8" stroke="#111" stroke-width="0.7" textLength="172.5" lengthAdjust="spacingAndGlyphs">Pump Housing</text>
<text x="618" y="135" font-size="31.8" stroke="#111" stroke-width="0.7" textLength="119.5" lengthAdjust="spacingAndGlyphs">Stationary</text>
<text x="618" y="165.8" font-size="31.8" stroke="#111" stroke-width="0.7" textLength="103.2" lengthAdjust="spacingAndGlyphs">Crescent</text>
<text x="618" y="196" font-size="31.8" stroke="#111" stroke-width="0.7" textLength="81.3" lengthAdjust="spacingAndGlyphs">Spacer</text>
<text x="655.4" y="408" font-size="31.8" stroke="#111" stroke-width="0.7" textLength="117.6" lengthAdjust="spacingAndGlyphs">Fluid Path</text>
<text x="658" y="439.8" font-size="31.8" stroke="#111" stroke-width="0.7" textLength="117.4" lengthAdjust="spacingAndGlyphs">Fluid Path</text>
<text x="648" y="483.7" font-size="31.8" stroke="#111" stroke-width="0.7" textLength="130" lengthAdjust="spacingAndGlyphs">Drive Shaft</text>
<text x="595.5" y="526" font-size="31.8" stroke="#111" stroke-width="0.7" textLength="241.3" lengthAdjust="spacingAndGlyphs">Fixed Tooth-Dividing</text>
<text x="633" y="556.8" font-size="31.8" stroke="#111" stroke-width="0.7" textLength="113" lengthAdjust="spacingAndGlyphs">Geometry</text>
<text x="995.7" y="79" font-size="31.8" stroke="#111" stroke-width="0.7" textLength="177.9" lengthAdjust="spacingAndGlyphs">Fluid Transport</text>
<text x="993.2" y="110" font-size="31.8" stroke="#111" stroke-width="0.7" textLength="182.2" lengthAdjust="spacingAndGlyphs">in Gear Cavities</text>
<text x="979" y="421" font-size="31.8" stroke="#111" stroke-width="0.7" textLength="103.5" lengthAdjust="spacingAndGlyphs">Pressure</text>
<text x="972" y="452.4" font-size="31.8" stroke="#111" stroke-width="0.7" textLength="116.5" lengthAdjust="spacingAndGlyphs">Fluid Path</text>
<text x="981.8" y="523.6" font-size="31.8" stroke="#111" stroke-width="0.7" textLength="207.2" lengthAdjust="spacingAndGlyphs">Fluid-Filled Cavity</text>
<text x="954.7" y="557.3" font-size="31.8" stroke="#111" stroke-width="0.7" textLength="289" lengthAdjust="spacingAndGlyphs">(Expanding/Contracting)</text>
<text x="1464.4" y="79.8" font-size="31.8" stroke="#111" stroke-width="0.7" textLength="172.2" lengthAdjust="spacingAndGlyphs">Pump Housing</text>
<text x="1717.6" y="110" font-size="31.8" stroke="#111" stroke-width="0.7" textLength="136.9" lengthAdjust="spacingAndGlyphs">Mesh Detail</text>
<text x="1514.5" y="143.8" font-size="31.8" stroke="#111" stroke-width="0.7" textLength="146.8" lengthAdjust="spacingAndGlyphs">Compressed</text>
<text x="1517" y="174.5" font-size="31.8" stroke="#111" stroke-width="0.7" textLength="141.8" lengthAdjust="spacingAndGlyphs">Fluid Output</text>
<text x="1527" y="205" font-size="31.8" stroke="#111" stroke-width="0.7" textLength="135.5" lengthAdjust="spacingAndGlyphs">(Discharge)</text>
<text x="1533.2" y="412.5" font-size="31.8" stroke="#111" stroke-width="0.7" textLength="103.8" lengthAdjust="spacingAndGlyphs">Pressure</text>
<text x="1553.8" y="443.3" font-size="31.8" stroke="#111" stroke-width="0.7" textLength="60.7" lengthAdjust="spacingAndGlyphs">Front</text>
<text x="1502" y="500.7" font-size="31.8" stroke="#111" stroke-width="0.7" textLength="174.8" lengthAdjust="spacingAndGlyphs">Pressure Front</text>
<text x="1700" y="453" font-size="31.8" stroke="#111" stroke-width="0.7" textLength="148" lengthAdjust="spacingAndGlyphs">Compressed</text>
<text x="1703" y="484.5" font-size="31.8" stroke="#111" stroke-width="0.7" textLength="144" lengthAdjust="spacingAndGlyphs">Fluid Output</text>
<text x="1705.7" y="515.7" font-size="31.8" stroke="#111" stroke-width="0.7" textLength="136.9" lengthAdjust="spacingAndGlyphs">(Discharge)</text>
<text x="1710.5" y="80.8" font-size="34.5" stroke="#111" stroke-width="0.7" textLength="153.5" lengthAdjust="spacingAndGlyphs">Internal Gear</text>
<text x="23" y="300" font-size="29.3" stroke="#111" stroke-width="0.7" textLength="64.5" lengthAdjust="spacingAndGlyphs">INLET</text>
<text x="26" y="329.5" font-size="29.3" stroke="#111" stroke-width="0.7" textLength="61.5" lengthAdjust="spacingAndGlyphs">PORT</text>
<text x="1584.5" y="300.2" font-size="29.3" stroke="#111" stroke-width="0.7" textLength="90.5" lengthAdjust="spacingAndGlyphs">OUTLET</text>
<text x="1598.8" y="330.2" font-size="29.3" stroke="#111" stroke-width="0.7" textLength="62.5" lengthAdjust="spacingAndGlyphs">PORT</text>
<text x="1467.5" y="558.8" font-size="31.5" font-weight="bold" textLength="196.9" lengthAdjust="spacingAndGlyphs">Phase 4: Output</text>
<text x="1675.7" y="558.8" font-size="31.5" stroke="#111" stroke-width="0.7" textLength="135" lengthAdjust="spacingAndGlyphs">(Discharge)</text>
<path d="M222,84.5 L236,84.5 L316.1,159.6" fill="none" stroke="#111" stroke-width="2.3"/>
<polygon points="322.5,165.5 308.2,159.6 314.6,158.1 315.7,151.6" fill="#111"/>
<path d="M192,156 L206,156 L270.3,209" fill="none" stroke="#111" stroke-width="2.3"/>
<polygon points="277,214.5 262.3,209.5 268.6,207.6 269.3,201" fill="#111"/>
<path d="M85,236.5 L85,251.5 L111.7,286.6" fill="none" stroke="#111" stroke-width="2.3"/>
<polygon points="117,293.5 103.8,285.3 110.4,284.8 112.6,278.6" fill="#111"/>
<path d="M191,389 L210.2,359.8" fill="none" stroke="#111" stroke-width="2.3"/>
<polygon points="215,352.5 211.6,367.6 209,361.6 202.4,361.6" fill="#111"/>
<path d="M231,465 L264.9,430.2" fill="none" stroke="#111" stroke-width="2.3"/>
<polygon points="271,424 264.8,438.2 263.4,431.8 256.9,430.5" fill="#111"/>
<path d="M432,530 L432,421.5" fill="none" stroke="#111" stroke-width="2.3"/>
<polygon points="432,412.8 437.5,427.3 432,423.7 426.5,427.3" fill="#111"/>
<path d="M562.5,69.5 L550,69.5 L528.9,92.4" fill="none" stroke="#111" stroke-width="2.3"/>
<polygon points="523,98.8 528.8,84.4 530.4,90.8 536.9,91.8" fill="#111"/>
<path d="M611,124.5 L594,124.5 L533.7,217.2" fill="none" stroke="#111" stroke-width="2.3"/>
<polygon points="529,224.5 532.3,209.3 534.9,215.4 541.5,215.3" fill="#111"/>
<path d="M651.7,397.5 L644,397.5 L603.8,352.5" fill="none" stroke="#111" stroke-width="2.3"/>
<polygon points="598,346 611.8,353.2 605.2,354.1 603.6,360.5" fill="#111"/>
<path d="M642,471.7 L633.7,471.7 L548.1,410.6" fill="none" stroke="#111" stroke-width="2.3"/>
<polygon points="541,405.5 556,409.5 549.8,411.8 549.6,418.4" fill="#111"/>
<path d="M590.6,514.4 L582,514.4 L501.8,408.4" fill="none" stroke="#111" stroke-width="2.3"/>
<polygon points="496.5,401.5 509.6,409.7 503.1,410.2 500.9,416.4" fill="#111"/>
<path d="M988.7,68.7 L975,68.7 L939.4,129.5" fill="none" stroke="#111" stroke-width="2.3"/>
<polygon points="935,137 937.6,121.7 940.5,127.6 947.1,127.3" fill="#111"/>
<path d="M1088.5,409.7 L1099,409.7 L1176.3,355.5" fill="none" stroke="#111" stroke-width="2.3"/>
<polygon points="1183.4,350.5 1174.7,363.3 1174.5,356.7 1168.4,354.3" fill="#111"/>
<path d="M1196,512.5 L1206.5,512.5 L1255.1,449.6" fill="none" stroke="#111" stroke-width="2.3"/>
<polygon points="1260.4,442.7 1255.9,457.5 1253.8,451.3 1247.2,450.8" fill="#111"/>
<path d="M1457.5,68 L1443,68 L1420.6,94.8" fill="none" stroke="#111" stroke-width="2.3"/>
<polygon points="1415,101.5 1420.1,86.8 1422,93.2 1428.5,93.9" fill="#111"/>
<path d="M1505,132.5 L1490,132.5 L1422.1,201.3" fill="none" stroke="#111" stroke-width="2.3"/>
<polygon points="1416,207.5 1422.3,193.3 1423.6,199.8 1430.1,201" fill="#111"/>
<path d="M1527.5,402 L1484.3,350.7" fill="none" stroke="#111" stroke-width="2.3"/>
<polygon points="1478.8,344 1492.3,351.6 1485.7,352.3 1483.9,358.6" fill="#111"/>
<path d="M1496.8,489.4 L1482.5,489.4 L1420.9,422.4" fill="none" stroke="#111" stroke-width="2.3"/>
<polygon points="1415,416 1428.9,423 1422.4,424 1420.8,430.4" fill="#111"/>
<path d="M1461.9,546.4 L1450.6,546.4 L1333.6,407.7" fill="none" stroke="#111" stroke-width="2.3"/>
<polygon points="1328,401 1341.6,408.5 1335,409.3 1333.1,415.6" fill="#111"/>
<path d="M1817.7,428 L1817.7,332 L1813.7,321.6" fill="none" stroke="#111" stroke-width="2.3"/>
<polygon points="1810.5,313.5 1820.9,325 1814.4,323.6 1810.6,329" fill="#111"/>
</svg>
</body></html>
